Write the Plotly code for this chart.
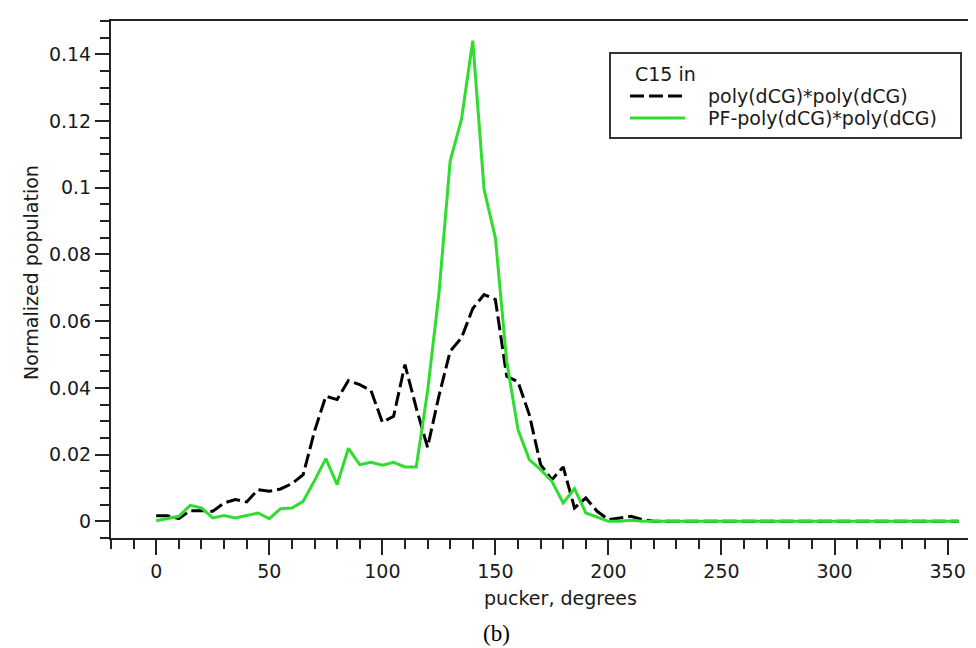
"""Sugar pucker distribution for C15, plain vs PF duplex."""

import plotly.graph_objects as go

# pucker angle grid (degrees), 5-degree bins
pucker = list(range(0, 360, 5))

# poly(dCG)*poly(dCG)
pop_plain = [
    0.0017, 0.0017, 0.0008, 0.0032, 0.0032, 0.0030, 0.0055, 0.0065, 0.0058, 0.0095,
    0.0090, 0.0097, 0.0113, 0.0140, 0.0270, 0.0375, 0.0365, 0.0422, 0.0410, 0.0392,
    0.0297, 0.0315, 0.0470, 0.0340, 0.0222, 0.0375, 0.0510, 0.0550, 0.0638, 0.0680,
    0.0665, 0.0435, 0.0418, 0.0320, 0.0170, 0.0125, 0.0163, 0.0040, 0.0070, 0.0030,
    0.0005, 0.0010, 0.0015, 0.0005,
] + [0.0] * 28

# PF-poly(dCG)*poly(dCG)
pop_pf = [
    0.0002, 0.0008, 0.0015, 0.0048, 0.0040, 0.0010, 0.0017, 0.0010, 0.0017, 0.0025,
    0.0008, 0.0038, 0.0040, 0.0060, 0.0122, 0.0188, 0.0110, 0.0219, 0.0170, 0.0177,
    0.0168, 0.0177, 0.0163, 0.0163, 0.0390, 0.0680, 0.1080, 0.1205, 0.1441, 0.0995,
    0.0850, 0.0480, 0.0275, 0.0185, 0.0155, 0.0120, 0.0055, 0.0098, 0.0025, 0.0012,
    0.0, 0.0, 0.0003, 0.0,
] + [0.0] * 28

legend_title = "C15 in"
series_names = ["poly(dCG)*poly(dCG)", "PF-poly(dCG)*poly(dCG)"]

W, H = 976, 648
L, R, T, B = 103, 0, 13, 118
FONT = "DejaVu Sans"
GREEN = "#30dc30"
INK = "#1a1a1a"


def px(x):
    # pixel -> paper x
    return (x - L) / (W - L - R)


def py(y):
    # pixel -> paper y
    return (H - B - y) / (H - B - T)


fig = go.Figure()
fig.add_trace(go.Scatter(x=pucker, y=pop_plain, mode="lines", name=series_names[0],
                         line=dict(color="black", width=3, dash="14px,5px"),
                         showlegend=False))
fig.add_trace(go.Scatter(x=pucker, y=pop_pf, mode="lines", name=series_names[1],
                         line=dict(color=GREEN, width=3),
                         showlegend=False))

# hand-made legend box to match the original look
fig.add_shape(type="rect", xref="paper", yref="paper",
              x0=px(602), x1=px(953), y0=py(130), y1=py(45),
              line=dict(color="#333", width=2), fillcolor="white")
fig.add_shape(type="line", xref="paper", yref="paper",
              x0=px(622), x1=px(677), y0=py(88), y1=py(88),
              line=dict(color="black", width=3, dash="14px,5px"))
fig.add_shape(type="line", xref="paper", yref="paper",
              x0=px(622), x1=px(677), y0=py(110), y1=py(110),
              line=dict(color=GREEN, width=3))
legend_rows = [(legend_title, 625, 66), (series_names[0], 698, 88), (series_names[1], 698, 110)]
for txt, x, y in legend_rows:
    fig.add_annotation(text=txt, xref="paper", yref="paper", x=px(x), y=py(y),
                       xanchor="left", yanchor="middle", showarrow=False,
                       font=dict(family=FONT, size=19, color=INK))

# axis titles and panel label placed by hand
fig.add_annotation(text="pucker, degrees", xref="paper", yref="paper", x=px(552), y=py(590),
                   xanchor="center", yanchor="middle", showarrow=False,
                   font=dict(family=FONT, size=19, color=INK))
fig.add_annotation(text="Normalized population", xref="paper", yref="paper", x=px(23), y=py(265),
                   xanchor="center", yanchor="middle", showarrow=False, textangle=-90,
                   font=dict(family=FONT, size=19, color=INK))
fig.add_annotation(text="(b)", xref="paper", yref="paper", x=px(488), y=py(625),
                   xanchor="center", yanchor="middle", showarrow=False,
                   font=dict(family="Liberation Serif", size=23, color="black"))

axis_common = dict(
    showline=True, linecolor="#222", linewidth=2, showgrid=False, zeroline=False,
    ticks="outside", tickcolor="#222", tickwidth=2,
    tickfont=dict(family=FONT, size=19, color=INK),
)

fig.update_xaxes(
    range=[-20, 366.1], tick0=0, dtick=50, ticklen=15, mirror=True,
    minor=dict(dtick=10, tick0=0, ticklen=9, ticks="outside", tickcolor="#222", tickwidth=2),
    **axis_common,
)
fig.update_yaxes(
    range=[-0.005, 0.150], tick0=0, dtick=0.02, ticklen=14,
    minor=dict(dtick=0.005, tick0=0, ticklen=9, ticks="outside", tickcolor="#222", tickwidth=2),
    **axis_common,
)

fig.update_layout(
    width=W, height=H,
    margin=dict(l=L, r=R, t=T, b=B),
    paper_bgcolor="white", plot_bgcolor="white",
)

fig.write_html("out.html")
